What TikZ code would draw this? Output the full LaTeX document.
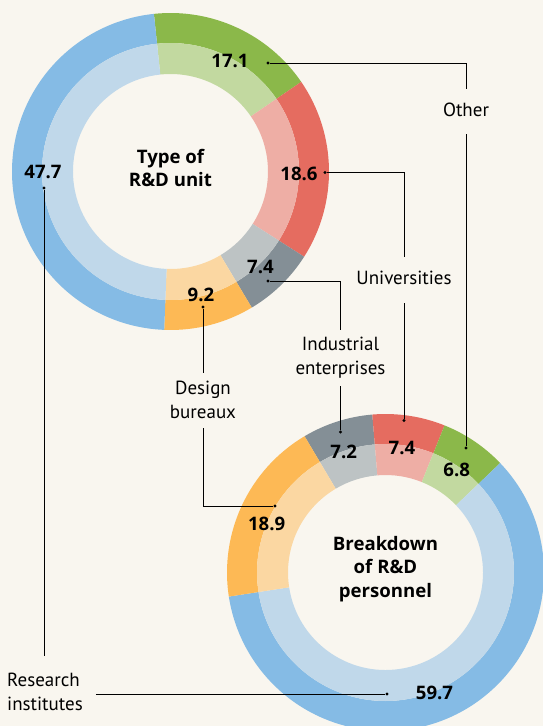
\documentclass[tikz,border=0pt]{standalone}
\usepackage{fontspec}
\setmainfont{PT Sans}
\newfontfamily\numfont{Open Sans}
\definecolor{bg}{HTML}{F9F6EF}
\definecolor{blueD}{HTML}{85BBE5}
\definecolor{blueL}{HTML}{C0D8EA}
\definecolor{greenD}{HTML}{8BB84A}
\definecolor{greenL}{HTML}{C2D9A0}
\definecolor{redD}{HTML}{E56C60}
\definecolor{redL}{HTML}{EEAEA5}
\definecolor{grayD}{HTML}{848F96}
\definecolor{grayL}{HTML}{BDC3C4}
\definecolor{orangeD}{HTML}{FDB955}
\definecolor{orangeL}{HTML}{FBD7A2}
\newcommand\ringseg[6]{%
  \begin{scope}[shift={(#1,#2)}]
    \fill[#5] (#3:158.5pt) arc[start angle=#3,end angle=#4,radius=158.5pt]
      -- (#4:128.5pt) arc[start angle=#4,end angle=#3,radius=128.5pt] -- cycle;
    \fill[#6] (#3:128.5pt) arc[start angle=#3,end angle=#4,radius=128.5pt]
      -- (#4:97.5pt) arc[start angle=#4,end angle=#3,radius=97.5pt] -- cycle;
  \end{scope}}
\begin{document}
\begin{tikzpicture}[x=1pt,y=-1pt,
  conn/.style={draw=black, line width=0.8pt},
  dot/.style={circle, fill=black, inner sep=0pt, minimum size=3.2pt},
  num/.style={font=\numfont\bfseries\fontsize{18.6}{23.5}\selectfont, anchor=base, inner sep=0pt},
  lab/.style={font=\fontsize{19}{23.5}\selectfont, align=center, inner sep=0pt},
  ctr/.style={font=\numfont\bfseries\fontsize{18.6}{23.5}\selectfont, align=center, inner sep=0pt}]
\useasboundingbox (0,0) rectangle (543,726);
\fill[bg] (0,0) rectangle (543,726);
\begin{scope}
\clip (0,0) rectangle (543,726);
% top donut
\ringseg{170.5}{171.5}{96}{34.44}{greenD}{greenL}
\ringseg{170.5}{171.5}{34.44}{-32.52}{redD}{redL}
\ringseg{170.5}{171.5}{-32.52}{-59.16}{grayD}{grayL}
\ringseg{170.5}{171.5}{-59.16}{-92.28}{orangeD}{orangeL}
\ringseg{170.5}{171.5}{-92.28}{-264}{blueD}{blueL}
% bottom donut
\ringseg{385.5}{572.5}{120.7}{94.78}{grayD}{grayL}
\ringseg{385.5}{572.5}{94.78}{68.14}{redD}{redL}
\ringseg{385.5}{572.5}{68.14}{43.66}{greenD}{greenL}
\ringseg{385.5}{572.5}{43.66}{-171.26}{blueD}{blueL}
\ringseg{385.5}{572.5}{188.74}{120.7}{orangeD}{orangeL}
\end{scope}
% numbers
\node[num] (n171) at (230,67.5) {17.1};
\node[num] (n186) at (299,180) {18.6};
\node[num] (n74) at (260.5,273.3) {7.4};
\node[num] (n92) at (201,301.7) {9.2};
\node[num] (n477) at (43,178.3) {47.7};
\node[num] (m72) at (343.7,458.3) {7.2};
\node[num] (m74) at (402,454) {7.4};
\node[num] (m68) at (456.7,476) {6.8};
\node[num] (m189) at (266.7,530) {18.9};
\node[num] (m597) at (434.5,699.3) {59.7};
% centre titles
\node[ctr] (t1) at (170.5,170.4) {\strut Type of\\\strut R\&D unit};
\node[ctr] (t2) at (385.5,568.8) {\strut Breakdown\\\strut of R\&D\\\strut personnel};
% labels
\node[lab] (other) at (466,112) {\strut Other};
\node[lab] (univ) at (404,279.3) {\strut Universities};
\node[lab] (ind) at (340.5,357.75) {\strut Industrial\\\strut enterprises};
\node[lab] (design) at (203,402) {\strut Design\\\strut bureaux};
\node[lab, align=left, anchor=west] (research) at (7,693.7) {\strut Research\\\strut institutes};
% dots
\node[dot] (d171) at (268,63) {};
\node[dot] (d186) at (325,172.5) {};
\node[dot] (d74) at (268,281) {};
\node[dot] (d92) at (203,307) {};
\node[dot] (d477) at (44,188) {};
\node[dot] (e72) at (340.5,432) {};
\node[dot] (e74) at (404,420.5) {};
\node[dot] (e68) at (466,448) {};
\node[dot] (e189) at (275,506) {};
\node[dot] (e597) at (387,694) {};
% connectors
\draw[conn, shorten >=23pt] (d171) -| (other.center);
\draw[conn, shorten <=22pt] (other.center) -- (e68);
\draw[conn, shorten >=22.3pt] (d186) -| (univ.center);
\draw[conn, shorten <=23.7pt] (univ.center) -- (e74);
\draw[conn, shorten >=27.75pt] (d74) -| (ind.center);
\draw[conn, shorten <=28.25pt] (ind.center) -- (e72);
\draw[conn, shorten >=29pt] (d92) -- (design.center);
\draw[conn, shorten <=26pt] (design.center) |- (e189);
\draw[conn, shorten >=37.7pt] (d477) -- (d477 |- research.center);
\draw[conn, shorten <=13pt] (research.east |- e597) -- (e597);
\end{tikzpicture}
\end{document}
